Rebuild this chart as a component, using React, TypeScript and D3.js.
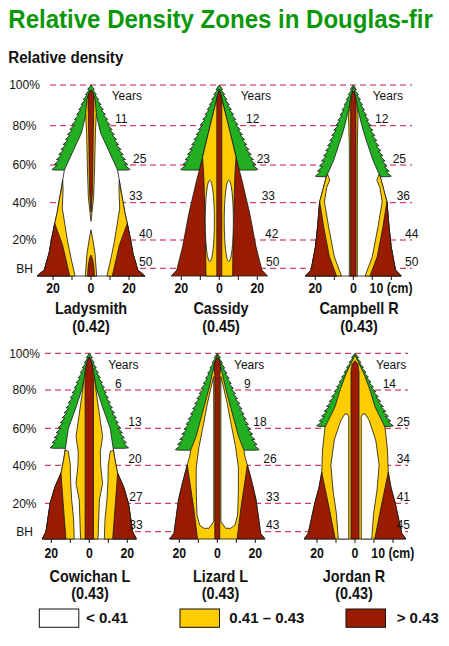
import React from "react";
import * as d3 from "d3";

type Pt = [number, number]; // [radius cm, height %]
type Zone = "low" | "mid" | "high";
interface Layer {
  zone: Zone;
  kind: "sym" | "pair" | "ellipse";
  pts?: Pt[];
  ell?: { r: number; rx: number; h0: number; h1: number };
}

// ---------- data ----------
const siteNames = ["Ladysmith", "Cassidy", "Campbell R", "Cowichan L", "Lizard L", "Jordan R"];
const siteDensity = [0.42, 0.45, 0.43, 0.43, 0.43, 0.43];
const ringAges = [
  [11, 25, 33, 40, 50],
  [12, 23, 33, 42, 50],
  [12, 25, 36, 44, 50],
  [6, 13, 20, 27, 33],
  [9, 18, 26, 33, 43],
  [14, 25, 34, 41, 45],
];
const heightTicks = [100, 80, 60, 40, 20, 5];
const heightTickLabels = ["100%", "80%", "60%", "40%", "20%", "BH"];
const ageHeights = [80, 60, 40, 20, 5];
const crownBaseHeight = [57.3, 57.3, 53.8, 49.2, 48.2, 61];
const crownHalfWidth = [19, 18.8, 18.4, 19.1, 20.5, 18.6];
const diameterTicks = [-20, -10, 0, 10, 20];
const legendLabels = ["< 0.41", "0.41 \u2013 0.43", "> 0.43"];
const legendZones: Zone[] = ["low", "mid", "high"];

const ladysmithZones: Layer[] = [
  { zone: "low", kind: "sym", pts: [[28.4, 0], [24.6, 3.9], [22.1, 12.9], [20.5, 21.8], [19.1, 28.9], [17.9, 34.3], [16.4, 43.2], [14.9, 52], [14, 57.3], [8.4, 69.3], [5.1, 76.1], [2.6, 86], [0, 97.5]] },
  { zone: "mid", kind: "pair", pts: [[14.9, 52], [15.6, 46.7], [16.4, 43.2], [17.9, 34.3], [19.1, 28.9], [20.5, 21.8], [22.1, 12.9], [24.6, 3.9], [28.4, 0], [8.4, 0], [10.5, 10.3], [12.3, 19.1], [13.7, 28], [15.1, 37], [14.7, 46.7]] },
  { zone: "high", kind: "pair", pts: [[19.1, 28.9], [20.5, 21.8], [22.1, 12.9], [24.6, 3.9], [28.4, 0], [11.2, 0], [15, 17.5]] },
  { zone: "mid", kind: "sym", pts: [[0, 30], [1.4, 43], [1.9, 59], [2.3, 76], [2.8, 86], [2.2, 93], [0, 97.5]] },
  { zone: "high", kind: "sym", pts: [[0, 35], [0.7, 45], [1.0, 60], [1.1, 70], [1.4, 86], [1.6, 94], [1.0, 96.5], [0, 97.3]] },
  { zone: "mid", kind: "sym", pts: [[3, 0], [2.1, 12.9], [1, 20], [0, 25.5]] },
  { zone: "high", kind: "sym", pts: [[1.8, 0], [1.5, 6], [0.8, 10], [0, 12]] },
];

const cassidyZones: Layer[] = [
  { zone: "high", kind: "sym", pts: [[25.4, 0], [22.4, 3.9], [19.3, 16.5], [16, 34.3], [11.9, 52], [10.5, 57.3], [7.5, 69.3], [4.1, 82.8], [0, 98]] },
  { zone: "mid", kind: "sym", pts: [[7, 0], [7.2, 15], [7.6, 35], [8.2, 55], [8.8, 64], [7.5, 69.3], [4.1, 82.8], [0, 98]] },
  { zone: "low", kind: "ellipse", ell: { r: 5, rx: 2.4, h0: 8.5, h1: 52 } },
  { zone: "high", kind: "sym", pts: [[1.3, 0], [1.3, 92], [0.9, 95.5], [0, 96.8]] },
];

const campbellZones: Layer[] = [
  { zone: "low", kind: "sym", pts: [[25.2, 0], [22.2, 3.9], [19.9, 16.5], [18.8, 27], [17.7, 40.5], [16, 47], [14.2, 53.8], [10.5, 62], [6, 75], [4.4, 80.4], [2.5, 88], [0, 99]] },
  { zone: "mid", kind: "pair", pts: [[13.5, 55], [14.2, 53.8], [16, 47], [17.7, 40.5], [18.8, 27], [19.9, 16.5], [22.2, 3.9], [25.2, 0], [6.2, 0], [10, 11.2], [13, 27.1], [15.2, 40.5], [14, 48], [12.4, 52]] },
  { zone: "high", kind: "pair", pts: [[17.7, 40.5], [18.8, 27], [19.9, 16.5], [22.2, 3.9], [25.2, 0], [8.8, 0], [12.6, 11.2], [15.6, 27.1]] },
  { zone: "mid", kind: "sym", pts: [[2.1, 0], [2.1, 70], [2.5, 85], [1.6, 93], [0, 97]] },
  { zone: "high", kind: "sym", pts: [[1.4, 0], [1.4, 90], [1.0, 95], [0, 97]] },
];

const cowichanZones: Layer[] = [
  { zone: "low", kind: "sym", pts: [[24.8, 0], [22.8, 5], [20.6, 20], [18, 28.8], [14.9, 35.8], [13.5, 43], [12.7, 48.3], [11, 60], [7, 71], [4, 80], [2, 90], [0, 98]] },
  { zone: "mid", kind: "pair", pts: [[12.7, 48.3], [13.5, 43], [14.9, 35.8], [18, 28.8], [20.6, 20], [22.8, 5], [24.8, 0], [7.9, 0], [8.3, 12], [9.3, 22], [9.8, 31], [10, 40], [11, 47.5]] },
  { zone: "high", kind: "pair", pts: [[14.9, 35.8], [18, 28.8], [20.6, 20], [22.8, 5], [24.8, 0], [12.3, 0], [13.6, 18]] },
  { zone: "mid", kind: "sym", pts: [[4.6, 0], [5.3, 21.8], [7, 30.4], [6, 39.6], [5.8, 47.3], [7, 55.5], [5.5, 66], [3.5, 80], [2.3, 90], [0, 98]] },
  { zone: "high", kind: "sym", pts: [[2.2, 0], [2.2, 85], [1.7, 93], [0.8, 96.5], [0, 98]] },
];

const lizardZones: Layer[] = [
  { zone: "mid", kind: "sym", pts: [[25.1, 0], [22.8, 3.9], [20.4, 21.8], [18.4, 30.4], [15.8, 40.2], [14.5, 45], [14, 48.2], [11.2, 55.5], [4.6, 80], [2.6, 89], [0, 99]] },
  { zone: "low", kind: "pair", pts: [[1.9, 87.3], [3.2, 81.8], [5.2, 73], [7.5, 60.9], [9.6, 50.1], [11.1, 39], [11.1, 27], [10.7, 13.8], [9.3, 8.5], [7, 6.8], [4.4, 6.8], [1.9, 10.3]] },
  { zone: "high", kind: "pair", pts: [[15.8, 40.2], [18.4, 30.4], [20.4, 21.8], [22.8, 3.9], [25.1, 0], [10.4, 0], [12.5, 18]] },
  { zone: "high", kind: "sym", pts: [[1.3, 0], [1.3, 88], [1.8, 93], [1.2, 96], [0, 97.5]] },
];

const jordanZones: Layer[] = [
  { zone: "mid", kind: "sym", pts: [[26.8, 0], [24.6, 3.9], [21.2, 20], [19, 28], [17.5, 36.3], [17.1, 48.3], [15.8, 60.5], [10.5, 71.3], [7.9, 80], [4.6, 89.1], [0, 99]] },
  { zone: "low", kind: "pair", pts: [[3.3, 0], [3.3, 66], [4, 67.5], [5.3, 67.5], [7.4, 64.3], [10.9, 53.7], [12.7, 40.2], [11.6, 27], [9.8, 14.7], [8.8, 0]] },
  { zone: "high", kind: "pair", pts: [[17.5, 36.3], [19, 28], [21.2, 20], [24.6, 3.9], [26.8, 0], [10.4, 0], [13.5, 17]] },
  { zone: "high", kind: "sym", pts: [[2.1, 0], [2.1, 90], [1.5, 94], [0, 96]] },
];

const siteZones = [ladysmithZones, cassidyZones, campbellZones, cowichanZones, lizardZones, jordanZones];

// ---------- style & layout ----------
const zoneFill: Record<Zone, string> = { low: "#ffffff", mid: "#ffcc00", high: "#9a1c00" };
const crownFill = "#22b022";
const titleGreen = "#0a980a";
const dashColor = "#cc1040";
const FONT = "'Liberation Sans', Arial, Helvetica, sans-serif";
const PX_PER_CM = 1.9;
const yDomain = [0, 5, 20, 40, 60, 80, 100];
const rowRanges = [
  [276, 268.3, 240, 202.7, 165, 125.7, 85],
  [539, 531.7, 503.3, 465.3, 428.3, 390, 353.3],
];
const rowDashX = [[50, 412], [45, 408]];
const panelCx = [91, 219.3, 353.3, 89.3, 217.3, 355];
const nameCx = [91, 221, 359, 90, 220.5, 354];
const nameBaseline = [314.3, 581.7];
const tickLabelBaseline = [293.3, 558.3];
const cmUnitPanels = [2, 5];
const yearsDx = [20.7, 21.4, 19.4, 19, 16.7, 21];
const ageDx = [
  [24, 42, 38, 48, 48],
  [26.7, 37.4, 42.4, 45.7, 46.7],
  [21.7, 39.4, 43.4, 51.7, 51.7],
  [25.7, 39, 39, 40, 40],
  [26.7, 36, 46, 48.7, 48.7],
  [27.7, 41.7, 41.7, 41.7, 41.7],
];
const legendBoxX = [39.3, 180, 346];
const legendTextX = [86, 229.3, 396.7];

const line = d3.line<[number, number]>().x((d) => d[0]).y((d) => d[1]);

function crownPath(cx: number, xs: d3.ScaleLinear<number, number>, ys: d3.ScaleLinear<number, number>, base: number, hw: number) {
  const ax = xs(0), ay = ys(100);
  const bx = xs(hw), by = ys(base);
  const n = Math.max(4, Math.round((by - ay) / 5));
  const right: [number, number][] = [[ax, ay]];
  for (let i = 0; i < n; i++) {
    const t1 = (i + 1) / n;
    const px = ax + (bx - ax) * t1;
    const py = ay + (by - ay) * t1;
    const amp = 1 + 2 * t1;
    right.push([px + amp, py - 0.5]);
    right.push([px - 0.3, py]);
  }
  right[right.length - 1] = [bx, by];
  const left = right.slice().reverse().map(([x, y]) => [2 * cx - x, y] as [number, number]);
  return line([...right, ...left]) + "Z";
}

function Panel({ i }: { i: number }) {
  const row = i < 3 ? 0 : 1;
  const cx = panelCx[i];
  const xs = d3.scaleLinear().domain([-30, 30]).range([cx - 30 * PX_PER_CM, cx + 30 * PX_PER_CM]);
  const ys = d3.scaleLinear().domain(yDomain).range(rowRanges[row]);
  const toPx = (p: Pt[]) => p.map(([r, h]) => [xs(r), ys(h)] as [number, number]);
  const stroke = { stroke: "#161616", strokeWidth: 0.8, strokeLinejoin: "round" as const };
  const shapes: React.ReactNode[] = [];
  siteZones[i].forEach((L, k) => {
    const fill = zoneFill[L.zone];
    if (L.kind === "sym" && L.pts) {
      const full: Pt[] = [...L.pts, ...L.pts.slice().reverse().map(([r, h]) => [-r, h] as Pt)];
      shapes.push(<path key={k} d={line(toPx(full)) + "Z"} fill={fill} {...stroke} />);
    } else if (L.kind === "pair" && L.pts) {
      const mirror = L.pts.map(([r, h]) => [-r, h] as Pt);
      shapes.push(<path key={k + "r"} d={line(toPx(L.pts)) + "Z"} fill={fill} {...stroke} />);
      shapes.push(<path key={k + "l"} d={line(toPx(mirror)) + "Z"} fill={fill} {...stroke} />);
    } else if (L.kind === "ellipse" && L.ell) {
      const e = L.ell;
      const y0 = ys(e.h0), y1 = ys(e.h1);
      const rx = xs(e.rx) - xs(0);
      [-1, 1].forEach((s) => {
        shapes.push(
          <ellipse key={k + "e" + s} cx={xs(s * e.r)} cy={(y0 + y1) / 2} rx={rx} ry={Math.abs(y0 - y1) / 2} fill={fill} {...stroke} />
        );
      });
    }
  });
  const baseY = ys(0);
  const isCm = cmUnitPanels.includes(i);
  return (
    <g>
      <path d={crownPath(cx, xs, ys, crownBaseHeight[i], crownHalfWidth[i])} fill={crownFill} {...stroke} />
      {shapes}
      {diameterTicks.map((t) => (
        <line key={t} x1={xs(t)} x2={xs(t)} y1={baseY} y2={baseY + 4} stroke="#161616" strokeWidth={1} />
      ))}
      <g fontWeight="bold" fontSize={15} fill="#111">
        <text transform={`translate(${xs(-20)},${tickLabelBaseline[row]}) scale(0.82,1)`} textAnchor="middle">20</text>
        <text transform={`translate(${xs(0)},${tickLabelBaseline[row]}) scale(0.82,1)`} textAnchor="middle">0</text>
        {isCm ? (
          <text transform={`translate(${xs(10) - 2.7},${tickLabelBaseline[row]}) scale(0.82,1)`} textAnchor="start">10 (cm)</text>
        ) : (
          <text transform={`translate(${xs(20)},${tickLabelBaseline[row]}) scale(0.82,1)`} textAnchor="middle">20</text>
        )}
      </g>
      <g fontSize={12} fill="#111">
        <text x={cx + yearsDx[i]} y={ys(100) + 15.3}>Years</text>
        {ringAges[i].map((a, k) => (
          <text key={k} x={cx + ageDx[i][k]} y={ys(ageHeights[k]) - 2.5}>{a}</text>
        ))}
      </g>
      <g fontWeight="bold" fontSize={16} fill="#111" textAnchor="middle">
        <text transform={`translate(${nameCx[i]},${nameBaseline[row]}) scale(0.9,1)`}>{siteNames[i]}</text>
        <text transform={`translate(${nameCx[i]},${nameBaseline[row] + 17.4}) scale(0.9,1)`}>({siteDensity[i].toFixed(2)})</text>
      </g>
    </g>
  );
}

export default function App() {
  const W = 449, H = 646;
  return (
    <svg width={W} height={H} style={{ position: "absolute", left: 0, top: 0, background: "#fff" }} fontFamily={FONT}>
      <rect width={W} height={H} fill="#fff" />
      <text transform="translate(8.3,28.3) scale(0.943,1)" fontSize={25.5} fontWeight="bold" fill={titleGreen}>
        Relative Density Zones in Douglas-fir
      </text>
      <text transform="translate(8.3,63.3) scale(0.945,1)" fontSize={16} fontWeight="bold" fill="#111">
        Relative density
      </text>
      {[0, 1].map((row) => {
        const ys = d3.scaleLinear().domain(yDomain).range(rowRanges[row]);
        return (
          <g key={row}>
            {heightTicks.map((t, k) => (
              <g key={t}>
                <line x1={rowDashX[row][0]} x2={rowDashX[row][1]} y1={ys(t)} y2={ys(t)} stroke={dashColor} strokeWidth={1} strokeDasharray="6,4" />
                <text x={24.5} y={ys(t) + 4.3} fontSize={12} textAnchor="middle" fill="#111">{heightTickLabels[k]}</text>
              </g>
            ))}
          </g>
        );
      })}
      {siteNames.map((_, i) => <Panel key={i} i={i} />)}
      {legendLabels.map((lab, k) => (
        <g key={k}>
          <rect x={legendBoxX[k]} y={609} width={39.5} height={18.3} fill={zoneFill[legendZones[k]]} stroke="#111" strokeWidth={1} />
          <text x={legendTextX[k]} y={623.3} fontSize={15} fontWeight="bold" fill="#111">{lab}</text>
        </g>
      ))}
    </svg>
  );
}
